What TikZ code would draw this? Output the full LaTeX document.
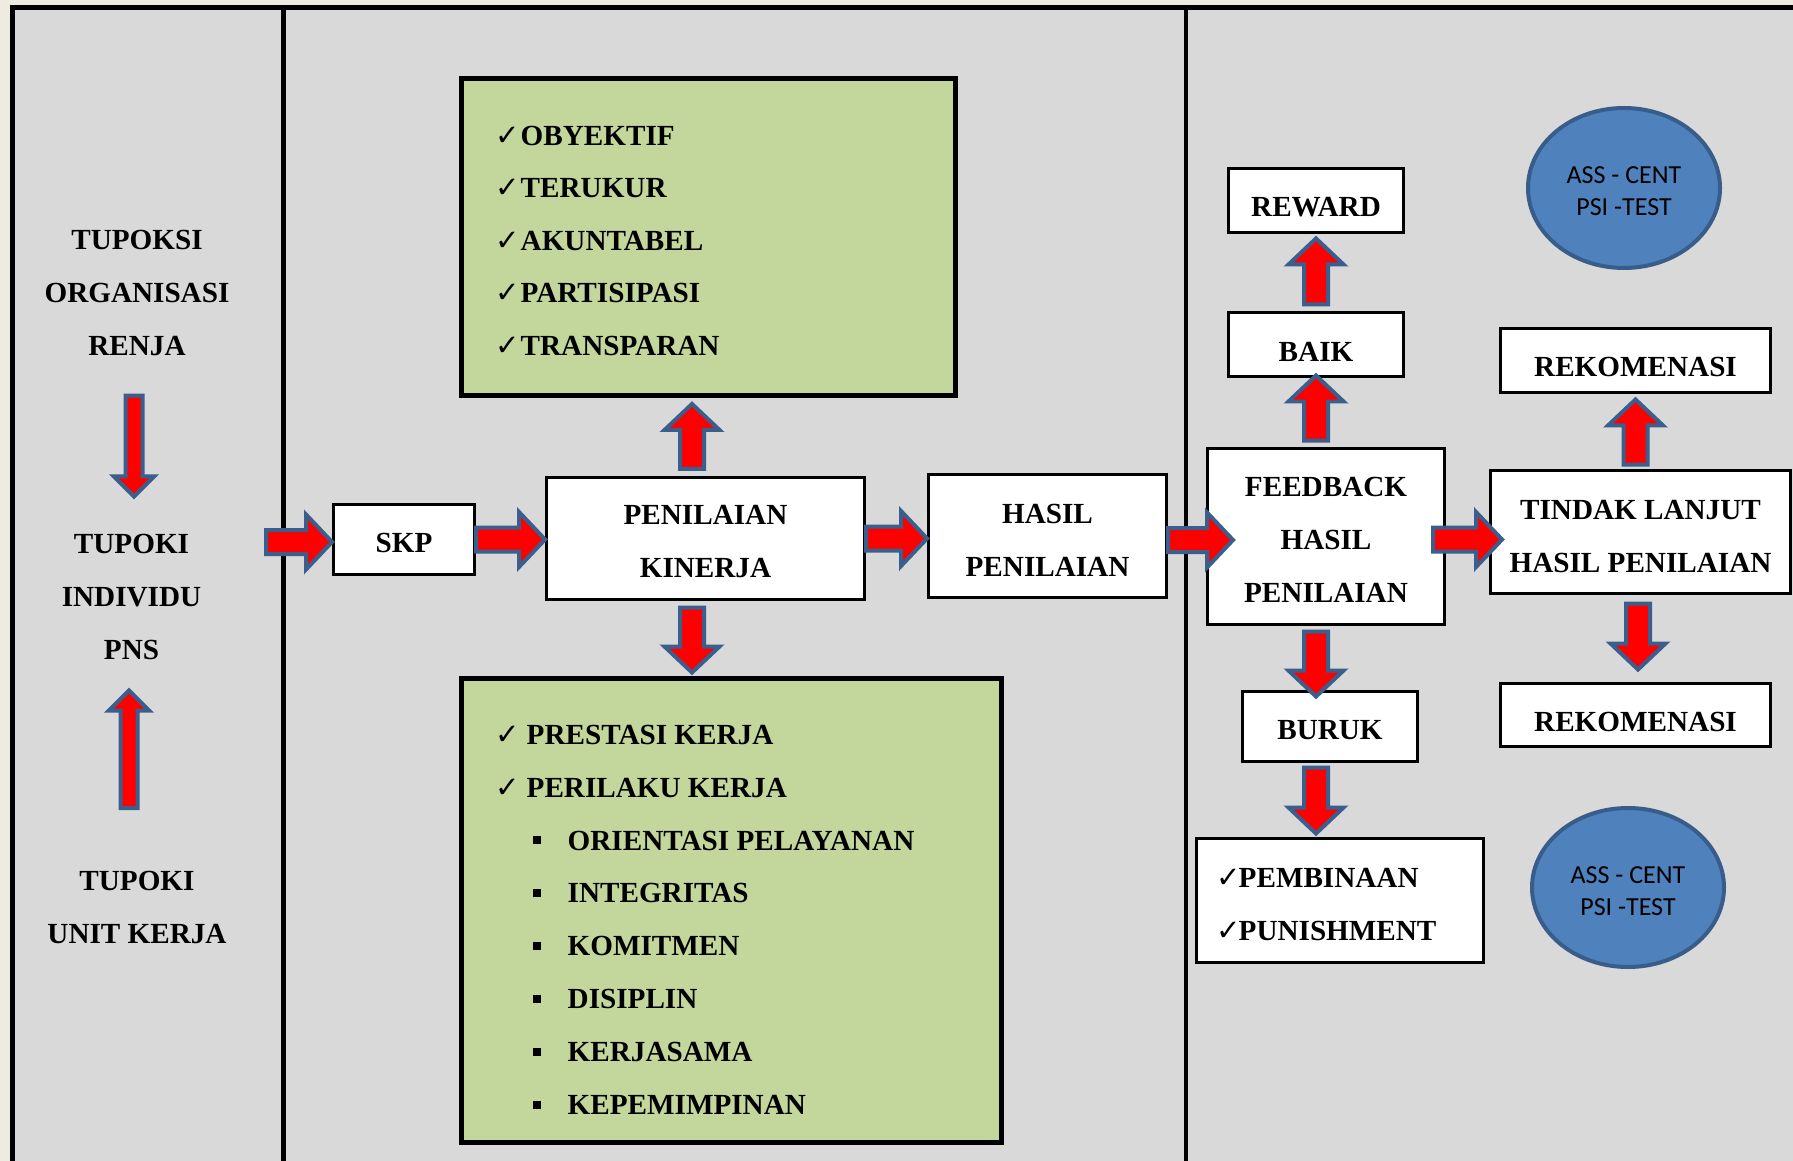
\documentclass[tikz,border=0pt]{standalone}
\usepackage{fontspec}
\setmainfont{Liberation Serif}
\newfontfamily\symfont{DejaVu Sans}
\newfontfamily\calfont{Carlito}
\usetikzlibrary{calc,shapes.geometric}
\definecolor{bgout}{HTML}{EEECE1}
\definecolor{panel}{HTML}{D9D9D9}
\definecolor{leaf}{HTML}{C3D69B}
\definecolor{arrred}{HTML}{FF0000}
\definecolor{arrblue}{HTML}{3B5F8C}
\definecolor{disc}{HTML}{4F81BD}
\definecolor{discline}{HTML}{385D8A}
\newcommand{\chk}[1]{\makebox[#1][l]{\symfont\mdseries ✓}}
\newcommand{\sq}{\makebox[0.35cm][l]{\rule[0.19em]{0.28em}{0.28em}}}
\newcommand{\lift}[1][0.261cm]{\rule{0pt}{#1}}

\begin{document}
\begin{tikzpicture}[
  txt/.style={font=\fontsize{8.3}{15.08}\selectfont\bfseries, align=center, inner sep=0pt},
  box/.style={txt, draw=black, fill=white, line width=0.03cm},
  crit/.style={draw=black, fill=leaf, line width=0.05cm},
  item/.style={txt, anchor=base west},
  frame/.style={line width=0.045cm, draw=black},
  ass/.style={ellipse, draw=discline, fill=disc, line width=0.04cm, inner sep=0pt, align=center, font=\calfont\fontsize{7.4}{9.1}\selectfont},
  blkarrow/.style n args={3}{draw=arrblue, fill=arrred, line width=0.04cm,
    to path={($(\tikztostart)!#1!90:(\tikztotarget)$)
      -- ($(\tikztotarget)!#3!(\tikztostart)!#1!90:(\tikztotarget)$)
      -- ($(\tikztotarget)!#3!(\tikztostart)!#2!90:(\tikztotarget)$)
      -- (\tikztotarget)
      -- ($(\tikztotarget)!#3!(\tikztostart)!#2!-90:(\tikztotarget)$)
      -- ($(\tikztotarget)!#3!(\tikztostart)!#1!-90:(\tikztotarget)$)
      -- ($(\tikztostart)!#1!-90:(\tikztotarget)$) -- cycle}},
  blk/.style={blkarrow={0.12cm}{0.275cm}{0.26cm}},
  blkthin/.style={blkarrow={0.085cm}{0.2cm}{0.2cm}},
]
\useasboundingbox (0,0) rectangle (17.93,-11.61);
\fill[bgout] (0,0) rectangle (17.93,-11.61);
\fill[panel] (0.124,-0.075) rectangle (17.93,-11.61);
\draw[frame] (0.124,-11.61) -- (0.124,-0.075) -- (17.93,-0.075);
\draw[frame] (2.835,-0.075) -- (2.835,-11.61);
\draw[frame] (11.86,-0.075) -- (11.86,-11.61);

% kolom kiri
\node[txt] (org) at (1.37,-2.93) {TUPOKSI\\ORGANISASI\\RENJA};
\node[txt] (indiv) at (1.315,-5.97) {TUPOKI\\INDIVIDU\\PNS};
\node[txt] (unit) at (1.37,-9.07) {TUPOKI\\UNIT KERJA};

% kolom tengah
\node[box, minimum width=1.41cm, minimum height=0.70cm] (skp) at (4.04,-5.395) {\lift SKP};
\node[box, minimum width=3.18cm, minimum height=1.22cm] (penilaian) at (7.055,-5.385) {\lift PENILAIAN\\KINERJA};
\node[box, minimum width=2.38cm, minimum height=1.23cm] (hasil) at (10.475,-5.36) {\lift[0.285cm]HASIL\\PENILAIAN};

\node[crit, minimum width=4.94cm, minimum height=3.17cm] (kriteria) at (7.085,-2.37) {};
\foreach \t [count=\i from 0] in {OBYEKTIF,TERUKUR,AKUNTABEL,PARTISIPASI,TRANSPARAN}
  \node[item] (k\i) at (4.95,{-1.455-0.525*\i}) {\chk{0.25cm}\t};

\node[crit, minimum width=5.40cm, minimum height=4.64cm] (aspek) at (7.315,-9.105) {};
\node[item] (a0) at (4.95,-7.44) {\chk{0.31cm}PRESTASI KERJA};
\node[item] (a1) at (4.95,-7.97) {\chk{0.31cm}PERILAKU KERJA};
\foreach \t [count=\i from 0] in {ORIENTASI PELAYANAN,INTEGRITAS,KOMITMEN,DISIPLIN,KERJASAMA,KEPEMIMPINAN}
  \node[item] (b\i) at (5.32,{-8.50-0.5286*\i}) {\sq\t};

% kolom kanan
\node[box, minimum width=2.37cm, minimum height=1.76cm] (feedback) at (13.26,-5.365) {\lift FEEDBACK\\HASIL\\PENILAIAN};
\node[box, minimum width=1.75cm, minimum height=0.64cm] (baik) at (13.16,-3.445) {\lift[0.331cm]BAIK};
\node[box, minimum width=1.75cm, minimum height=0.64cm] (reward) at (13.16,-2.005) {\lift[0.331cm]REWARD};
\node[box, minimum width=1.75cm, minimum height=0.70cm] (buruk) at (13.30,-7.265) {\lift BURUK};
\node[box, minimum width=2.87cm, minimum height=1.24cm] (sanksi) at (13.40,-9.005) {};
\node[item] (s0) at (12.16,-8.87) {\chk{0.22cm}PEMBINAAN};
\node[item] (s1) at (12.16,-9.40) {\chk{0.22cm}PUNISHMENT};
\node[box, minimum width=3.0cm, minimum height=1.23cm] (tindak) at (16.405,-5.32) {\lift[0.285cm]TINDAK LANJUT\\HASIL PENILAIAN};
\node[box, minimum width=2.70cm, minimum height=0.64cm] (rekomA) at (16.355,-3.605) {\lift[0.331cm]REKOMENASI};
\node[box, minimum width=2.70cm, minimum height=0.63cm] (rekomB) at (16.355,-7.15) {\lift[0.331cm]REKOMENASI};
\node[ass, minimum width=1.92cm, minimum height=1.60cm] (assA) at (16.24,-1.88) {\lift[0.236cm]ASS - CENT\\PSI -TEST};
\node[ass, minimum width=1.92cm, minimum height=1.59cm] (assB) at (16.28,-8.875) {\lift[0.236cm]ASS - CENT\\PSI -TEST};

% panah
\coordinate (masuk) at (2.66,-5.42);
\draw[blkthin] ([xshift=-0.03cm,yshift=-0.39cm]org.south) to ([xshift=0.025cm,yshift=0.37cm]indiv.north);
\draw[blkthin] ([xshift=-0.08cm,yshift=0.62cm]unit.north) to ([xshift=-0.025cm,yshift=-0.30cm]indiv.south);
\draw[blk] (masuk) to (masuk -| skp.west);
\draw[blk] (skp.east) to (skp.east -| penilaian.west);
\draw[blk] (penilaian.east) to (penilaian.east -| hasil.west);
\draw[blk] ([yshift=-0.04cm]hasil.east) to ([xshift=0.27cm,yshift=-0.04cm]hasil.east -| feedback.west);
\draw[blk] ([xshift=-0.13cm,yshift=-0.03cm]feedback.east) to ([xshift=0.13cm,yshift=-0.03cm]feedback.east -| tindak.west);
\draw[blk] ([xshift=-0.135cm,yshift=0.07cm]penilaian.north) to ([xshift=-0.135cm,yshift=-0.06cm]penilaian.north |- kriteria.south);
\draw[blk] ([xshift=-0.135cm,yshift=-0.065cm]penilaian.south) to ([xshift=-0.135cm,yshift=0.035cm]penilaian.south |- aspek.north);
\draw[blk] ([yshift=0.065cm]baik.south |- feedback.north) to ([yshift=0.025cm]baik.south);
\draw[blk] ([yshift=0.065cm]baik.north) to ([yshift=-0.045cm]reward.south);
\draw[blk] ([xshift=-0.10cm,yshift=-0.055cm]feedback.south) to ([xshift=-0.10cm,yshift=-0.065cm]feedback.south |- buruk.north);
\draw[blk] ([xshift=-0.14cm,yshift=-0.045cm]buruk.south) to ([xshift=-0.14cm,yshift=0.035cm]buruk.south |- sanksi.north);
\draw[blk] ([yshift=0.045cm]rekomA.south |- tindak.north) to ([yshift=-0.055cm]rekomA.south);
\draw[blk] ([xshift=0.025cm,yshift=-0.085cm]rekomB.north |- tindak.south) to ([xshift=0.025cm,yshift=0.125cm]rekomB.north);
\end{tikzpicture}
\end{document}
